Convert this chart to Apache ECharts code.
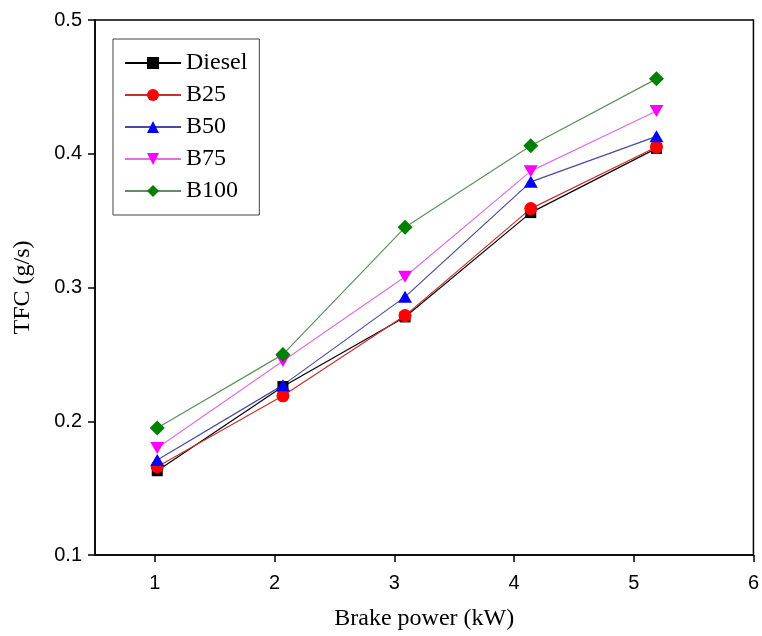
<!DOCTYPE html>
<html>
<head>
<meta charset="utf-8">
<script src="https://cdn.jsdelivr.net/npm/echarts@6/dist/echarts.min.js"></script>
<style>
html,body{margin:0;padding:0;background:#fff;}
#chart{width:762px;height:636px;}
</style>
</head>
<body>
<div id="chart"></div>
<script>
const powerX = [1.02, 2.07, 3.09, 4.14, 5.19];
const diesel = [0.163, 0.226, 0.278, 0.356, 0.404];
const b25 = [0.166, 0.219, 0.279, 0.359, 0.405];
const b50 = [0.171, 0.227, 0.293, 0.379, 0.413];
const b75 = [0.180, 0.245, 0.308, 0.387, 0.432];
const b100 = [0.195, 0.250, 0.345, 0.406, 0.456];
const xTicks = [1, 2, 3, 4, 5, 6];
const seriesNames = ['Diesel', 'B25', 'B50', 'B75', 'B100'];

const chart = echarts.init(document.getElementById('chart'), null, {renderer: 'canvas'});
const pairs = arr => arr.map((v, i) => [powerX[i], v]);
const styles = [
  {data: diesel, symbol: 'rect', size: 11, rot: 0, fill: '#000000', line: '#000000'},
  {data: b25, symbol: 'circle', size: 13, rot: 0, fill: '#ff0000', line: '#c83030'},
  {data: b50, symbol: 'triangle', size: [14, 12], rot: 0, fill: '#0000ff', line: '#4a4aa0'},
  {data: b75, symbol: 'triangle', size: [14, 12], rot: 180, fill: '#ff00ff', line: '#e070e0'},
  {data: b100, symbol: 'diamond', size: [15, 15], rot: 0, fill: '#008000', line: '#5f8f5f'}
];
const series = styles.map((s, i) => ({
  name: seriesNames[i],
  type: 'line',
  data: pairs(s.data),
  symbol: s.symbol,
  symbolSize: s.size,
  symbolRotate: s.rot,
  showAllSymbol: true,
  itemStyle: {color: s.fill, borderWidth: 0},
  lineStyle: {color: s.line, width: 1.2},
  emphasis: {disabled: true},
  animation: false
}));

chart.setOption({
  animation: false,
  backgroundColor: '#ffffff',
  grid: {left: 95, right: 8, top: 20, bottom: 79, show: true, borderColor: '#000', borderWidth: 1.5, containLabel: false},
  legend: {
    orient: 'vertical',
    left: 113, top: 39,
    padding: [12, 12, 12, 11],
    itemWidth: 56, itemHeight: 15, itemGap: 8,
    borderColor: '#444', borderWidth: 1,
    textStyle: {fontFamily: 'Liberation Serif', fontSize: 24, color: '#000', padding: [0,0,0,0]},
    data: seriesNames
  },
  xAxis: {
    type: 'value', min: 0.5, max: 6,
    name: 'Brake power (kW)', nameLocation: 'middle', nameGap: 52,
    nameTextStyle: {fontFamily: 'Liberation Serif', fontSize: 24, color: '#000'},
    axisLine: {show: true, onZero: false, lineStyle: {color: '#000', width: 1.5}},
    axisTick: {show: true, inside: false, length: 7, lineStyle: {color: '#000', width: 1.5}, customValues: xTicks},
    axisLabel: {color: '#000', fontFamily: 'Liberation Sans', fontSize: 20, margin: 18, customValues: xTicks},
    splitLine: {show: false}
  },
  yAxis: {
    type: 'value', min: 0.1, max: 0.5, interval: 0.1,
    name: 'TFC (g/s)', nameLocation: 'middle', nameGap: 60,
    nameTextStyle: {fontFamily: 'Liberation Serif', fontSize: 24, color: '#000'},
    axisLine: {show: true, onZero: false, lineStyle: {color: '#000', width: 1.5}},
    axisTick: {show: true, inside: false, length: 7, lineStyle: {color: '#000', width: 1.5}},
    axisLabel: {color: '#000', fontFamily: 'Liberation Sans', fontSize: 20, margin: 13, formatter: v => v.toFixed(1)},
    splitLine: {show: false}
  },
  series: series
});
</script>
</body>
</html>
